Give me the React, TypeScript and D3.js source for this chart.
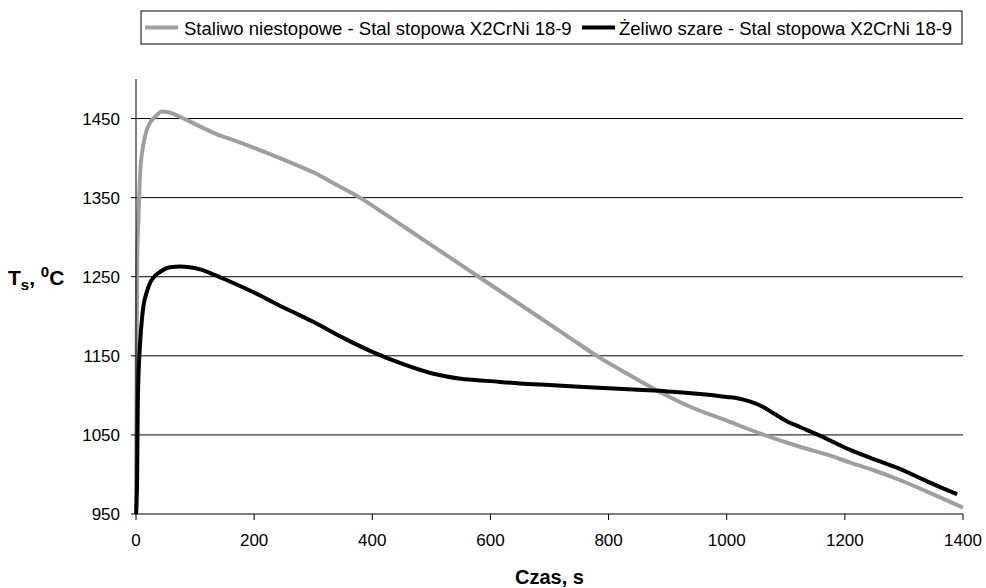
import React from "react";
import * as d3 from "d3";

const seriesNames = [
  "Staliwo niestopowe - Stal stopowa X2CrNi 18-9",
  "Żeliwo szare - Stal stopowa X2CrNi 18-9",
];

const steelTime = [0, 1, 2, 4, 7, 12, 18, 24, 32, 44, 55, 75, 100, 117, 140, 160, 200, 250, 300, 340, 379, 420, 460, 500, 540, 580, 630, 680, 730, 780, 830, 890, 940, 1000, 1063, 1124, 1170, 1209, 1250, 1293, 1340, 1400];
const steelTemp = [955, 1150, 1270, 1320, 1381, 1415, 1435, 1445, 1452, 1459, 1458, 1452, 1443, 1437, 1429, 1424, 1413, 1398, 1382, 1366, 1350, 1330, 1310, 1290, 1270, 1250, 1225, 1200, 1175, 1150, 1128, 1103, 1085, 1068, 1050, 1035, 1025, 1015, 1005, 993, 978, 958];

const ironTime = [0, 1, 2, 2.9, 4, 5.6, 8.5, 12.4, 18, 23.7, 32, 40.6, 57.6, 75, 91, 110, 134, 159, 200, 250, 300, 350, 400, 450, 500, 550, 600, 650, 700, 750, 800, 850, 900, 950, 1000, 1020, 1040, 1060, 1080, 1100, 1124, 1155, 1209, 1250, 1293, 1340, 1390];
const ironTemp = [950, 965, 1000, 1081, 1120, 1149, 1183, 1212, 1230, 1242, 1251, 1256, 1262, 1263, 1262, 1259, 1252, 1244, 1230, 1211, 1193, 1173, 1155, 1140, 1128, 1121, 1118, 1115, 1113, 1111, 1109, 1107, 1105, 1102, 1098, 1096, 1092, 1086, 1077, 1068, 1060, 1050, 1031, 1019, 1007, 991, 975];

const xTicks = [0, 200, 400, 600, 800, 1000, 1200, 1400];
const yTicks = [950, 1050, 1150, 1250, 1350, 1450];

const FONT = "'Liberation Sans', Arial, sans-serif";

export default function App() {
  const W = 986, H = 588;
  const left = 136, right = 963, top = 79, bottom = 514;
  const x = d3.scaleLinear().domain([0, 1400]).range([left, right]);
  const y = d3.scaleLinear().domain([950, 1500]).range([bottom, top]);

  const line = d3.line<[number, number]>().x(d => x(d[0])).y(d => y(d[1])).curve(d3.curveMonotoneX);
  const steel = steelTime.map((t, i) => [t, steelTemp[i]] as [number, number]);
  const iron = ironTime.map((t, i) => [t, ironTemp[i]] as [number, number]);

  return (
    <svg width={W} height={H} style={{ position: "absolute", left: 0, top: 0, background: "#fff" }} fontFamily={FONT}>
      <rect x={0} y={0} width={W} height={H} fill="#fff" />
      {yTicks.filter(v => v !== 950).map(v => (
        <line key={"g" + v} x1={left} x2={right} y1={y(v)} y2={y(v)} stroke="#000" strokeWidth={1} />
      ))}
      <path d={line(steel) || ""} fill="none" stroke="#9f9f9f" strokeWidth={4} strokeLinejoin="round" />
      <path d={line(iron) || ""} fill="none" stroke="#000" strokeWidth={4} strokeLinejoin="round" />
      <line x1={left} x2={left} y1={top} y2={bottom} stroke="#000" strokeWidth={1} />
      <line x1={left} x2={right} y1={bottom} y2={bottom} stroke="#000" strokeWidth={1} />
      {yTicks.map(v => (
        <g key={"y" + v}>
          <line x1={left - 5} x2={left} y1={y(v)} y2={y(v)} stroke="#000" />
          <text x={120} y={y(v)} dy="0.36em" textAnchor="end" fontSize={17}>{v}</text>
        </g>
      ))}
      {xTicks.map(v => (
        <g key={"x" + v}>
          <line x1={x(v)} x2={x(v)} y1={bottom} y2={bottom + 6} stroke="#000" />
          <text x={x(v)} y={546} textAnchor="middle" fontSize={17}>{v}</text>
        </g>
      ))}
      <text x={(left + right) / 2} y={584} textAnchor="middle" fontSize={20} fontWeight="bold">Czas, s</text>
      <text x={8} y={285} fontSize={21} fontWeight="bold">
        T<tspan fontSize={15} dy={5}>s</tspan><tspan dy={-5}>, </tspan><tspan fontSize={15} dy={-8}>0</tspan><tspan dy={8}>C</tspan>
      </text>
      <rect x={141} y={11} width={821} height={33} fill="#fff" stroke="#000" strokeWidth={1} />
      <line x1={145} x2={178} y1={27.5} y2={27.5} stroke="#9f9f9f" strokeWidth={4} />
      <text x={184} y={35} fontSize={18.5}>{seriesNames[0]}</text>
      <line x1={582} x2={615} y1={27.5} y2={27.5} stroke="#000" strokeWidth={4} />
      <text x={619} y={35} fontSize={18.5}>{seriesNames[1]}</text>
    </svg>
  );
}
